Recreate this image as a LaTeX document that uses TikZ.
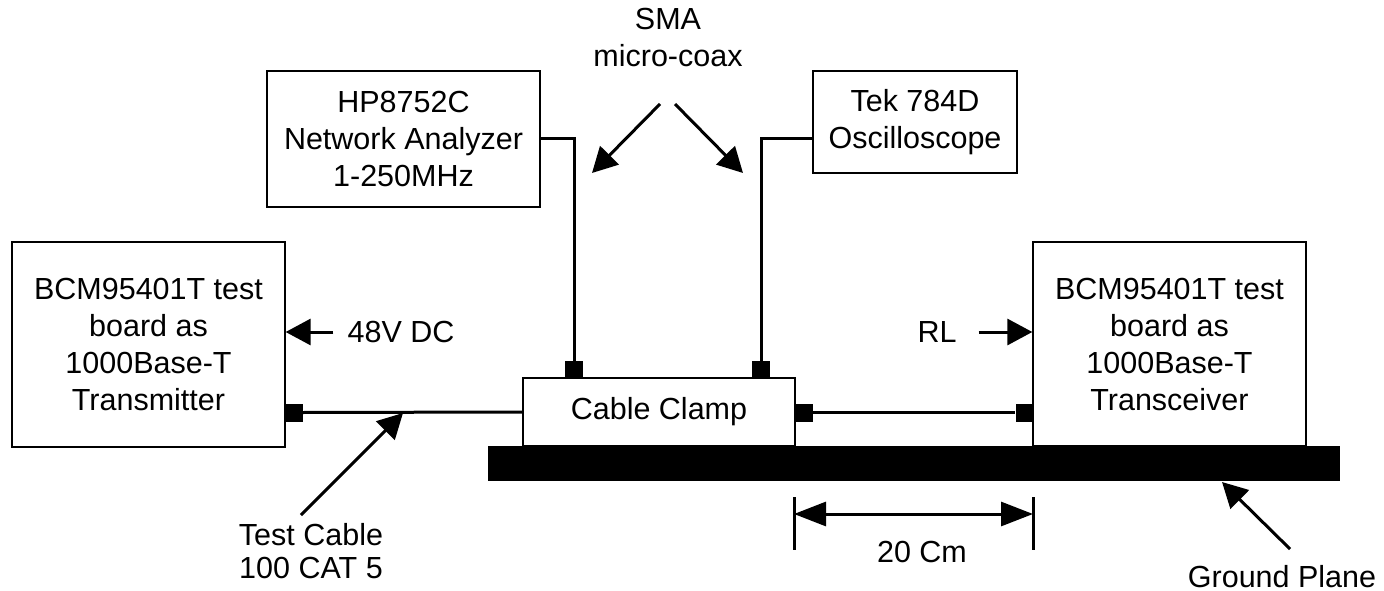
\documentclass[tikz,border=0pt]{standalone}
\usepackage{fontspec}
\setmainfont{Liberation Sans}
\usetikzlibrary{arrows.meta,calc}
\begin{document}
\begin{tikzpicture}[x=1pt,y=-1pt,
  every node/.style={inner sep=0pt, font=\fontsize{30.5}{37}\selectfont},
  box/.style={draw, line width=1.3pt, fill=white, align=center},
  conn/.style={fill=black, minimum width=18pt, minimum height=18pt},
  wire/.style={line width=3pt},
  dim/.style={line width=3pt},
  arr/.style={line width=3pt, -{Triangle[length=25pt,width=26pt]}},
  lbl/.style={align=center}]
\useasboundingbox (0,0) rectangle (1384,591);

% ground plane
\node[fill=black, minimum width=852pt, minimum height=35pt] (gp) at (914,463.5) {};

% boxes
\node[box, minimum width=273pt, minimum height=205pt] (tx) at (148.5,344.5)
  {BCM95401T test\\board as\\1000Base-T\\Transmitter};
\node[box, minimum width=273pt, minimum height=204pt] (rx) at (1169.5,344)
  {BCM95401T test\\board as\\1000Base-T\\Transceiver};
\node[box, minimum width=273pt, minimum height=136pt] (hp) at (403.5,139)
  {HP8752C\\Network Analyzer\\1-250MHz};
\node[box, minimum width=204pt, minimum height=102pt] (tek) at (915,122)
  {Tek 784D\\Oscilloscope};
\node[box, minimum width=272pt, minimum height=68pt] (clamp) at (659,412)
  {Cable Clamp};

% connectors
\node[conn] (ctx) at (293.5,412.5) {};
\node[conn] (crx) at (1024.5,412.5) {};
\node[conn] (ccl) at (804,412.5) {};
\node[conn, minimum height=17pt] (chp) at (574,369.5) {};
\node[conn, minimum height=17pt] (ctek) at (761,369.5) {};

% wires
\draw[wire] (ctx.east) -- (clamp.west);
\draw[wire] (ccl.east) -- (crx.west);
\draw[wire] (hp.east) -| (chp.north);
\coordinate (tekin) at (813,139);
\draw[wire] (tekin) -| (ctek.north);

% labels and arrows
\node (v48) at (401,332) {48V DC};
\draw[arr] ([xshift=-14pt]v48.west) -- (v48.west -| tx.east);

\node (rl) at (937,332) {RL};
\draw[arr] ([xshift=22pt]rl.east) -- (rl.east -| rx.west);

\node[lbl] (sma) at (668,38) {SMA\\micro-coax};
\coordinate (s1) at (660,104);
\coordinate (s1t) at (592,173);
\coordinate (s2) at (675,104);
\coordinate (s2t) at (743,173);
\draw[arr] (s1) -- (s1t);
\draw[arr] (s2) -- (s2t);

\node[lbl, font=\fontsize{30.5}{33}\selectfont] (tc) at (311,551) {Test Cable\\100 CAT 5};
\coordinate (tct) at (301,515);
\coordinate (tch) at (403,413);
\draw[arr] (tct) -- (tch);

\node (gpl) at (1282,577) {Ground Plane};
\coordinate (gpt) at (1290,549);
\coordinate (gph) at (1222,482);
\draw[arr] (gpt) -- (gph);

% dimension
\coordinate (d1a) at (794,497);
\coordinate (d1b) at (794,550);
\coordinate (d2a) at (1033,497);
\coordinate (d2b) at (1033,550);
\draw[dim] (d1a) -- (d1b);
\draw[dim] (d2a) -- (d2b);
\coordinate (dl) at (794,514);
\coordinate (dr) at (1033,514);
\draw[dim, {Triangle[length=32pt,width=24pt]}-{Triangle[length=32pt,width=24pt]}] (dl) -- (dr);
\node (dimtxt) at (922,552) {20 Cm};
\end{tikzpicture}
\end{document}
